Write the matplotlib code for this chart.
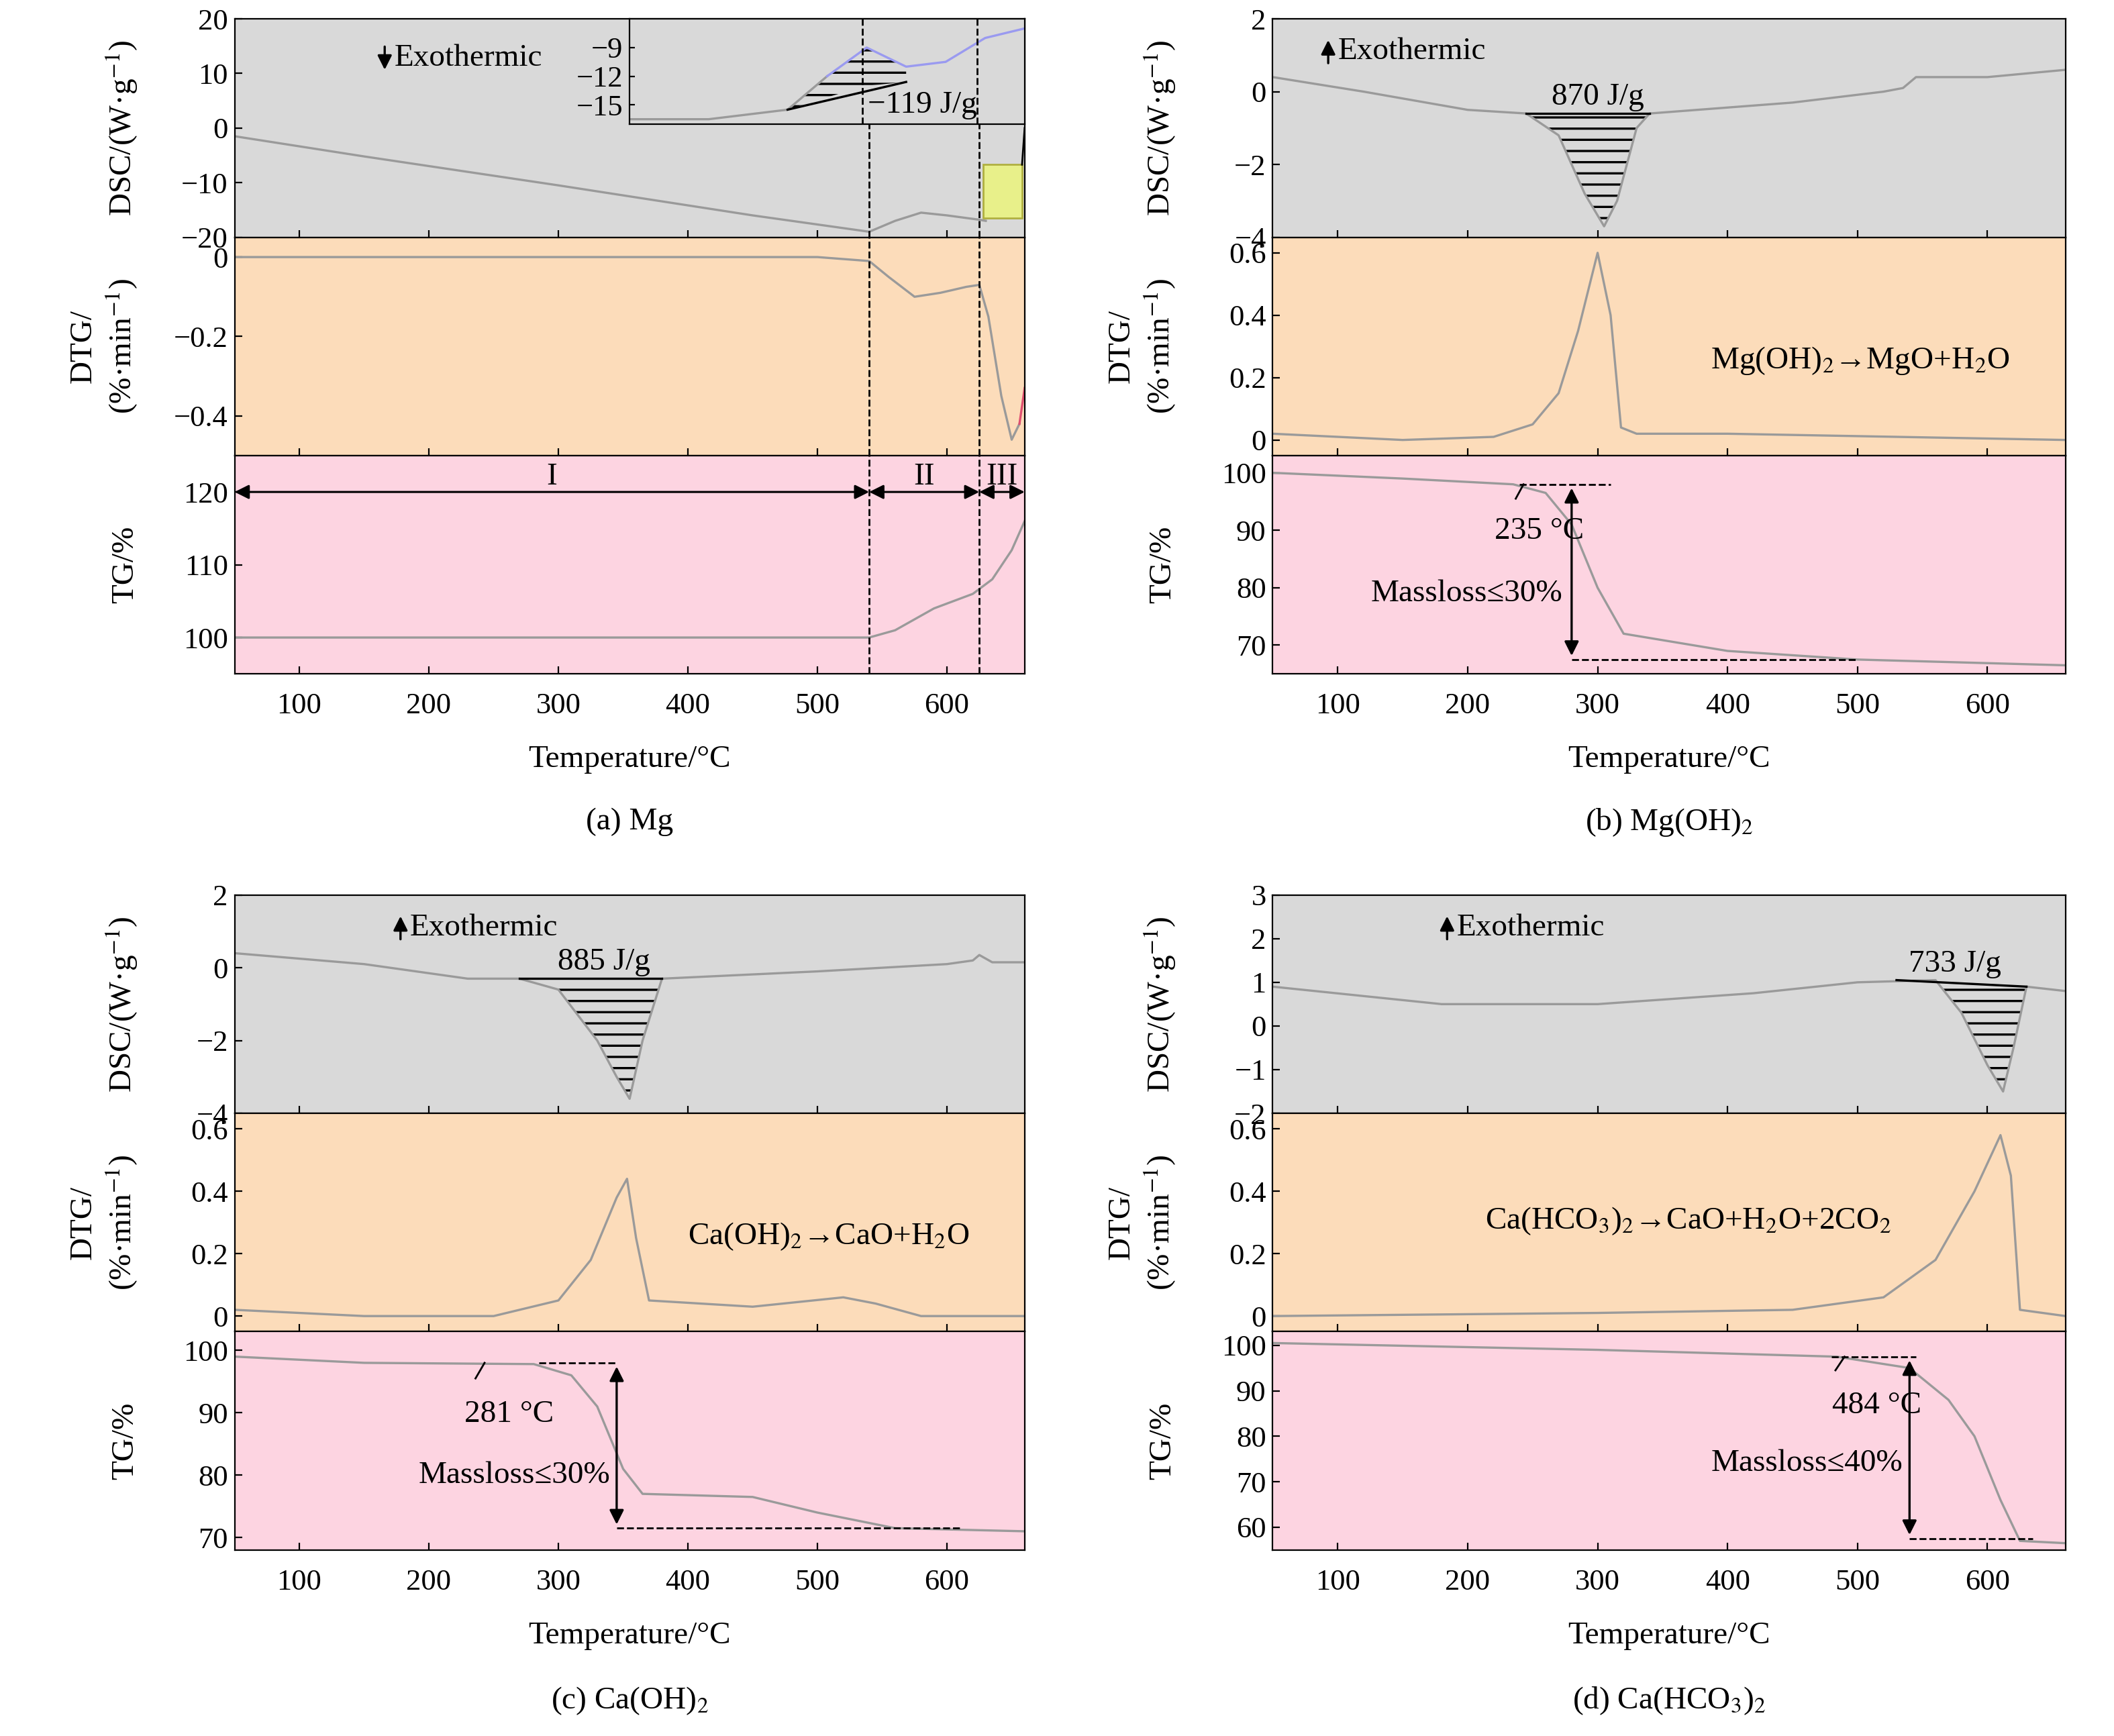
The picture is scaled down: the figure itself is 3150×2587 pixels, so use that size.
import matplotlib
matplotlib.use("Agg")
import matplotlib.pyplot as plt
import numpy as np
from matplotlib.patches import Rectangle

plt.rcParams['font.family'] = ['Liberation Serif', 'DejaVu Serif']
plt.rcParams['mathtext.fontset'] = 'stix'
plt.rcParams['font.size'] = 16
plt.rcParams['hatch.linewidth'] = 1.2

# ---------------- data ----------------
# (a) Mg
a_dsc_T = [50, 150, 300, 450, 540, 560, 580, 600, 625, 630]
a_dsc_v = [-1.5, -5.2, -10.5, -16.0, -19.0, -17.0, -15.5, -16.0, -16.8, -17.0]
a_dtg_T = [50, 300, 500, 540, 555, 575, 595, 615, 625, 632, 642, 650, 656, 660]
a_dtg_v = [0.0, 0.0, 0.0, -0.01, -0.05, -0.10, -0.09, -0.075, -0.07, -0.15, -0.35, -0.46, -0.42, -0.33]
a_tg_T = [50, 300, 540, 560, 590, 620, 635, 650, 660]
a_tg_v = [100, 100, 100, 101, 104, 106, 108, 112, 116]
a_ins_T = [0, 2, 4, 5, 6, 7, 8, 9, 10]
a_ins_v = [-16.5, -16.5, -15.5, -12.0, -9.0, -11.0, -10.5, -8.0, -7.0]
# (b) Mg(OH)2
b_dsc_T = [50, 120, 200, 245, 270, 290, 305, 315, 330, 340, 450, 520, 535, 545, 600, 660]
b_dsc_v = [0.4, 0.0, -0.5, -0.6, -1.2, -2.8, -3.7, -3.0, -1.0, -0.6, -0.3, 0.0, 0.1, 0.4, 0.4, 0.6]
b_dtg_T = [50, 150, 220, 250, 270, 285, 300, 310, 318, 330, 400, 660]
b_dtg_v = [0.02, 0.0, 0.01, 0.05, 0.15, 0.35, 0.60, 0.40, 0.04, 0.02, 0.02, 0.0]
b_tg_T = [50, 150, 235, 260, 280, 300, 320, 400, 500, 660]
b_tg_v = [100, 99, 98, 96.5, 91, 80, 72, 69, 67.5, 66.5]
# (c) Ca(OH)2
c_dsc_T = [50, 150, 230, 270, 300, 330, 345, 355, 365, 380, 500, 600, 620, 625, 635, 660]
c_dsc_v = [0.4, 0.1, -0.3, -0.3, -0.6, -2.0, -3.0, -3.6, -2.0, -0.3, -0.1, 0.1, 0.2, 0.35, 0.15, 0.15]
c_dtg_T = [50, 150, 250, 300, 325, 345, 353, 360, 370, 450, 520, 545, 580, 660]
c_dtg_v = [0.02, 0.0, 0.0, 0.05, 0.18, 0.38, 0.44, 0.25, 0.05, 0.03, 0.06, 0.04, 0.0, 0.0]
c_tg_T = [50, 150, 281, 310, 330, 350, 365, 450, 500, 560, 660]
c_tg_v = [99, 98, 97.8, 96, 91, 81, 77, 76.5, 74, 71.5, 71]
# (d) Ca(HCO3)2
d_dsc_T = [50, 180, 300, 420, 500, 560, 580, 600, 612, 620, 630, 660]
d_dsc_v = [0.9, 0.5, 0.5, 0.75, 1.0, 1.05, 0.3, -0.9, -1.5, -0.5, 0.9, 0.8]
d_dtg_T = [50, 300, 450, 520, 560, 590, 610, 618, 625, 660]
d_dtg_v = [0.0, 0.01, 0.02, 0.06, 0.18, 0.40, 0.58, 0.45, 0.02, 0.0]
d_tg_T = [50, 300, 484, 540, 570, 590, 610, 625, 660]
d_tg_v = [100.5, 99, 97.5, 95, 88, 80, 66, 57, 56.5]

GRAY, ORANGE, PINK = '#d9d9d9', '#fcdcba', '#fdd4e1'
LC = '#9a9a9a'

fig = plt.figure(figsize=(15.75, 12.935), dpi=200)
W, H = 1568, 1288
def mk(x0, x1, y0, y1, c):
    ax = fig.add_axes([x0/W, 1-y1/H, (x1-x0)/W, (y1-y0)/H])
    ax.set_facecolor(c)
    ax.set_xlim(50, 660)
    ax.tick_params(direction='in', length=4, labelsize=16)
    ax.tick_params(axis='x', pad=10)
    return ax

def panel(x0, x1, ytop):
    h = 162
    a1 = mk(x0, x1, ytop, ytop+h, GRAY)
    a2 = mk(x0, x1, ytop+h, ytop+2*h, ORANGE)
    a3 = mk(x0, x1, ytop+2*h, ytop+3*h, PINK)
    for a in (a1, a2):
        a.tick_params(labelbottom=False)
    a3.set_xticks([100, 200, 300, 400, 500, 600])
    a3.set_xlabel('Temperature/°C', fontsize=17, labelpad=14)
    a1.set_ylabel('DSC/(W·g$^{-1}$)', fontsize=17)
    a2.set_ylabel('DTG/\n(%·min$^{-1}$)', fontsize=17)
    a3.set_ylabel('TG/%', fontsize=17)
    for a in (a1, a2, a3):
        a.yaxis.set_label_coords(-0.12, 0.5)
    return a1, a2, a3

def exo(ax, x, y, up=True):
    ax.annotate('', xy=(x, y + (0.07 if up else -0.07)), xytext=(x, y - (0.07 if up else -0.07)),
                xycoords='axes fraction', arrowprops=dict(arrowstyle='-|>', color='k', lw=1.2))
    ax.text(x + 0.012, y, 'Exothermic', transform=ax.transAxes, va='center', fontsize=17)

def hatch(ax, T, v, t0, t1, base0, base1):
    T = np.array(T); v = np.array(v)
    m = (T >= t0) & (T <= t1)
    tt = T[m]; vv = v[m]
    bb = base0 + (base1-base0)*(tt-t0)/(t1-t0)
    ax.fill_between(tt, bb, vv, facecolor='none', edgecolor='k', hatch='--', lw=0)
    ax.plot([t0, t1], [base0, base1], color='k', lw=1.2)

def tgann(ax, tlab, xa, ytop, ybot, xs0, xs1, xb1, lab, labpos, mpos):
    ax.plot([xs0, xs1], [ytop, ytop], 'k--', lw=1)
    ax.plot([xa, xb1], [ybot, ybot], 'k--', lw=1)
    ax.annotate('', xy=(xa, ytop), xytext=(xa, ybot), arrowprops=dict(arrowstyle='<|-|>', color='k', lw=1.2))
    ax.text(labpos[0], labpos[1], tlab, fontsize=17, ha='center')
    ax.text(mpos[0], mpos[1], lab, fontsize=17, ha='right', va='center')

# ---------- (a)
a1, a2, a3 = panel(174, 760, 14)
a1.plot(a_dsc_T, a_dsc_v, color=LC, lw=1.2); a1.set_ylim(-20, 20); a1.set_yticks([-20, -10, 0, 10, 20])
a2.plot(a_dtg_T[:-1], a_dtg_v[:-1], color=LC, lw=1.2); a2.plot(a_dtg_T[-2:], a_dtg_v[-2:], color='#e05070', lw=1.2)
a2.set_ylim(-0.5, 0.05); a2.set_yticks([0, -0.2, -0.4]); a2.set_yticklabels(['0', '−0.2', '−0.4'])
a3.plot(a_tg_T, a_tg_v, color=LC, lw=1.2); a3.set_ylim(95, 125); a3.set_yticks([100, 110, 120])
a1.set_yticklabels(['−20', '−10', '0', '10', '20'])
for a in (a1, a2, a3):
    for xv in (540, 625):
        a.axvline(xv, color='k', ls='--', lw=1)
for (s, e, lab) in [(50, 540, 'I'), (540, 625, 'II'), (625, 660, 'III')]:
    a3.annotate('', xy=(s, 120), xytext=(e, 120), arrowprops=dict(arrowstyle='<|-|>', color='k', lw=1.1, shrinkA=0, shrinkB=0))
    a3.text((s+e)/2, 121, lab, ha='center', fontsize=17)
exo(a1, 0.19, 0.82, up=False)
a1.add_patch(Rectangle((628, -16.5), 30, 9.8, facecolor='#e8f08a', edgecolor='#b0b040', lw=1))
a1.plot([658, 660], [-6.7, 0], color='k', lw=1)
ins = fig.add_axes([467/W, 1-92/H, (760-467)/W, 78/H])
ins.set_facecolor(GRAY)
ins.plot(a_ins_T[:4], a_ins_v[:4], color=LC, lw=1.2)
ins.plot(a_ins_T[3:], a_ins_v[3:], color='#9a9af0', lw=1.2)
ins.fill_between([4, 5, 6, 7], [-15.5, -14.2, -13.0, -12.6], [-15.5, -12.0, -9.0, -11.0], facecolor='none', edgecolor='k', hatch='--', lw=0)
ins.plot([4, 7], [-15.5, -12.6], color='k', lw=1.2)
ins.set_xlim(0, 10); ins.set_ylim(-17, -6)
ins.set_yticks([-9, -12, -15]); ins.set_yticklabels(['−9', '−12', '−15'])
ins.set_xticks([]); ins.tick_params(direction='in', labelsize=16, length=3)
ins.axvline(5.9, color='k', ls='--', lw=1); ins.axvline(8.8, color='k', ls='--', lw=1)
ins.text(8.8, -15.8, '−119 J/g', fontsize=17, ha='right')

# ---------- (b)
b1, b2, b3 = panel(944, 1532, 14)
b1.plot(b_dsc_T, b_dsc_v, color=LC, lw=1.2); b1.set_ylim(-4, 2); b1.set_yticks([-4, -2, 0, 2]); b1.set_yticklabels(['−4', '−2', '0', '2'])
hatch(b1, b_dsc_T, b_dsc_v, 245, 340, -0.6, -0.6)
b1.text(300, -0.35, '870 J/g', fontsize=17, ha='center')
exo(b1, 0.07, 0.85)
b2.plot(b_dtg_T, b_dtg_v, color=LC, lw=1.2); b2.set_ylim(-0.05, 0.65); b2.set_yticks([0, 0.2, 0.4, 0.6]); b2.set_yticklabels(['0', '0.2', '0.4', '0.6'])
b2.text(0.93, 0.4, 'Mg(OH)$_2$→MgO+H$_2$O', transform=b2.transAxes, ha='right', fontsize=17)
b3.plot(b_tg_T, b_tg_v, color=LC, lw=1.2); b3.set_ylim(65, 103); b3.set_yticks([70, 80, 90, 100])
tgann(b3, '235 °C', 280, 98, 67.5, 240, 310, 500, 'Massloss≤30%', (255, 88.5), (273, 79))
b3.plot([237, 243], [95.5, 98], color='k', lw=1)

# ---------- (c)
c1, c2, c3 = panel(174, 760, 664)
c1.plot(c_dsc_T, c_dsc_v, color=LC, lw=1.2); c1.set_ylim(-4, 2); c1.set_yticks([-4, -2, 0, 2]); c1.set_yticklabels(['−4', '−2', '0', '2'])
hatch(c1, c_dsc_T, c_dsc_v, 270, 380, -0.3, -0.3)
c1.text(335, -0.05, '885 J/g', fontsize=17, ha='center')
exo(c1, 0.21, 0.85)
c2.plot(c_dtg_T, c_dtg_v, color=LC, lw=1.2); c2.set_ylim(-0.05, 0.65); c2.set_yticks([0, 0.2, 0.4, 0.6]); c2.set_yticklabels(['0', '0.2', '0.4', '0.6'])
c2.text(0.93, 0.4, 'Ca(OH)$_2$→CaO+H$_2$O', transform=c2.transAxes, ha='right', fontsize=17)
c3.plot(c_tg_T, c_tg_v, color=LC, lw=1.2); c3.set_ylim(68, 103); c3.set_yticks([70, 80, 90, 100])
tgann(c3, '281 °C', 345, 98, 71.5, 285, 345, 610, 'Massloss≤30%', (262, 88.5), (340, 80))
c3.plot([236, 243], [95.5, 98], color='k', lw=1)

# ---------- (d)
d1, d2, d3 = panel(944, 1532, 664)
d1.plot(d_dsc_T, d_dsc_v, color=LC, lw=1.2); d1.set_ylim(-2, 3); d1.set_yticks([-2, -1, 0, 1, 2, 3]); d1.set_yticklabels(['−2', '−1', '0', '1', '2', '3'])
hatch(d1, d_dsc_T, d_dsc_v, 530, 630, 1.05, 0.9)
d1.text(575, 1.25, '733 J/g', fontsize=17, ha='center')
exo(d1, 0.22, 0.85)
d2.plot(d_dtg_T, d_dtg_v, color=LC, lw=1.2); d2.set_ylim(-0.05, 0.65); d2.set_yticks([0, 0.2, 0.4, 0.6]); d2.set_yticklabels(['0', '0.2', '0.4', '0.6'])
d2.text(0.78, 0.47, 'Ca(HCO$_3$)$_2$→CaO+H$_2$O+2CO$_2$', transform=d2.transAxes, ha='right', fontsize=17)
d3.plot(d_tg_T, d_tg_v, color=LC, lw=1.2); d3.set_ylim(55, 103); d3.set_yticks([60, 70, 80, 90, 100])
tgann(d3, '484 °C', 540, 97.5, 57.5, 480, 545, 635, 'Massloss≤40%', (515, 85), (535, 74))
d3.plot([483, 490], [94.5, 97.5], color='k', lw=1)

for xc, y, t in [(467, 610, '(a) Mg'), (1238, 610, '(b) Mg(OH)$_2$'),
                 (467, 1262, '(c) Ca(OH)$_2$'), (1238, 1262, '(d) Ca(HCO$_3$)$_2$')]:
    fig.text(xc/W, 1-y/H, t, ha='center', va='center', fontsize=17)

fig.savefig('out.png', dpi=200)
